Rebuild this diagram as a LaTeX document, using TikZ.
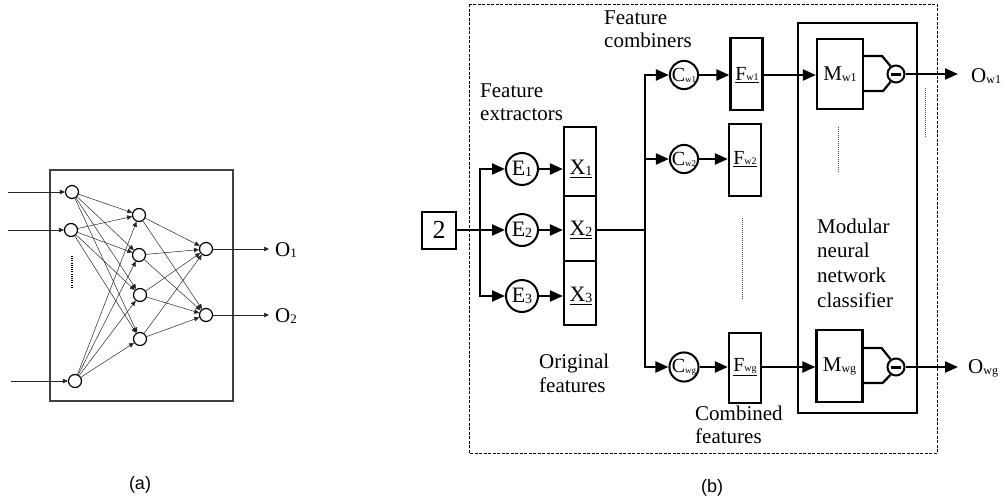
\documentclass[tikz,border=0pt]{standalone}
\usepackage{fontspec}
\setmainfont{Liberation Serif}
\newfontfamily\labsans{Liberation Sans}
\usetikzlibrary{arrows.meta,calc}
\newcommand{\ssub}[2]{\raisebox{-0.1ex}{\fontsize{#1}{#1}\selectfont #2}}
\begin{document}
\begin{tikzpicture}[x=1pt,y=-1pt,
  neu/.style={circle,draw,line width=1.2pt,minimum size=13pt,inner sep=0pt},
  conn/.style={line width=0.5pt,draw=black!85,-{Triangle[length=5pt,width=4.5pt]}},
  bl/.style={line width=2.2pt},
  arr/.style={line width=2.2pt,-{Triangle[length=13pt,width=11pt]}},
  ecirc/.style={circle,draw,line width=2pt,minimum size=32pt,inner sep=0pt,font=\fontsize{22}{22}\selectfont},
  ccirc/.style={circle,draw,line width=2pt,minimum size=24pt,inner sep=0pt,font=\fontsize{20}{20}\selectfont},
  fbox/.style={rectangle,draw,line width=2.2pt,minimum width=32pt,inner sep=0pt},
  mbox/.style={rectangle,draw,line width=2.2pt,minimum width=46pt,inner sep=0pt,font=\fontsize{21}{21}\selectfont},
  minus/.style={circle,draw,line width=2pt,minimum size=17pt,inner sep=0pt},
  lbl/.style={anchor=base west,inner sep=0pt,font=\fontsize{21}{24}\selectfont},
  inlbl/.style={inner sep=0pt,font=\fontsize{20}{20}\selectfont},
  dotl/.style={line width=1pt,draw=black!70,dash pattern=on 1pt off 1pt}
]
\useasboundingbox (0,0) rectangle (1005,501);

% ---------------- panel (a) ----------------
\draw[line width=1.5pt,draw=black!75] (50,170) rectangle (233,401);
\node[neu] (i1) at (72,192) {};
\node[neu] (i2) at (71,230) {};
\node[neu] (i3) at (75,381) {};
\node[neu] (h1) at (139,215) {};
\node[neu] (h2) at (139,255) {};
\node[neu] (h3) at (140,295) {};
\node[neu] (h4) at (140,339) {};
\node[neu] (o1) at (206,249) {};
\node[neu] (o2) at (206,315) {};
\coordinate (a1) at (8,192);
\coordinate (a2) at (8,230);
\coordinate (a3) at (11,381);
\draw[conn] (a1) -- (i1);
\draw[conn] (a2) -- (i2);
\draw[conn] (a3) -- (i3);
\foreach \i in {i1,i2,i3}{\foreach \h in {h1,h2,h3,h4}{\draw[conn] (\i) -- (\h);}}
\foreach \h in {h1,h2,h3,h4}{\foreach \o in {o1,o2}{\draw[conn] (\h) -- (\o);}}
\coordinate (oe1) at (269,249);
\coordinate (oe2) at (269,315);
\draw[conn] (o1) -- (oe1);
\draw[conn] (o2) -- (oe2);
\node[anchor=west,inner sep=0pt,font=\fontsize{21}{21}\selectfont] (O1t) at (275,250) {O\ssub{13}{1}};
\node[anchor=west,inner sep=0pt,font=\fontsize{21}{21}\selectfont] (O2t) at (275,316) {O\ssub{13}{2}};
\draw[line width=1.3pt,dash pattern=on 1pt off 1.2pt] (72,256) -- (72,287);
\node[font=\labsans\fontsize{18}{18}\selectfont] (alab) at (140,485) {(a)};

% ---------------- panel (b) ----------------
\draw[line width=0.8pt,dash pattern=on 3pt off 1.5pt] (469,4) rectangle (937,453);
\node[draw,line width=2pt,minimum width=34pt,minimum height=37pt,inner sep=0pt,font=\fontsize{26}{26}\selectfont] (two) at (439,230) {2};

\node[ecirc] (E1) at (522,169) {E\ssub{14}{1}};
\node[ecirc] (E2) at (522,230) {E\ssub{14}{2}};
\node[ecirc] (E3) at (522,296) {E\ssub{14}{3}};

\node[fbox,minimum height=69pt] (X1) at (580,161.5) {};
\node[fbox,minimum height=65pt] (X2) at (580,228.5) {};
\node[fbox,minimum height=64pt] (X3) at (580,293) {};
\node[inlbl,font=\fontsize{22}{22}\selectfont] (X1t) at (581,169) {\underline{X\ssub{14}{1}}};
\node[inlbl,font=\fontsize{22}{22}\selectfont] (X2t) at (581,230) {\underline{X\ssub{14}{2}}};
\node[inlbl,font=\fontsize{22}{22}\selectfont] (X3t) at (581,296) {\underline{X\ssub{14}{3}}};

\coordinate (t1) at (480,169);
\coordinate (t3) at (480,296);
\draw[bl,line cap=rect] (t1) -- (t3);
\draw[arr] (two.east) -- (E2);
\draw[arr] (t1) -- (E1);
\draw[arr] (t3) -- (E3);
\draw[arr] (E1) -- (E1 -| X1.west);
\draw[arr] (E2) -- (E2 -| X2.west);
\draw[arr] (E3) -- (E3 -| X3.west);

\coordinate (u0) at (645,230);
\coordinate (u1) at (645,75);
\coordinate (u2) at (645,159);
\coordinate (ug) at (645,367);
\draw[bl] (E2 -| X2.east) -- (u0);
\draw[bl,line cap=rect] (u1) -- (ug);

\node[ccirc] (C1) at (684,75) {C\ssub{9}{w1}};
\node[ccirc] (C2) at (684,159) {C\ssub{9}{w2}};
\node[ccirc] (Cg) at (684,367) {C\ssub{9}{wg}};
\draw[arr] (u1) -- (C1);
\draw[arr] (u2) -- (C2);
\draw[arr] (ug) -- (Cg);

\node[fbox,minimum height=72pt] (F1) at (746.5,74) {};
\node[fbox,minimum height=72pt] (F2) at (745,160) {};
\node[fbox,minimum height=70pt] (Fg) at (745,368) {};
\node[inlbl] (F1t) at (747,75) {\underline{F\ssub{10}{w1}}};
\node[inlbl] (F2t) at (745,159) {\underline{F\ssub{10}{w2}}};
\node[inlbl] (Fgt) at (745,367) {\underline{F\ssub{10}{wg}}};
\draw[arr] (C1) -- (C1 -| F1.west);
\draw[arr] (C2) -- (C2 -| F2.west);
\draw[arr] (Cg) -- (Cg -| Fg.west);

\draw[line width=2.5pt] (798,23) rectangle (917,413);
\node[mbox,minimum height=70pt] (M1) at (840,74) {M\ssub{12}{w1}};
\node[mbox,minimum height=72pt] (Mg) at (839.5,366) {M\ssub{12}{wg}};
\draw[arr] (F1.east |- C1) -- (C1 -| M1.west);
\draw[arr] (Fg.east |- Cg) -- (Cg -| Mg.west);

\node[minus] (m1) at (896,74) {\rule{10pt}{3pt}};
\node[minus] (mg) at (896,367) {\rule{10pt}{3pt}};
\draw[bl] ($(M1.east)+(0,-18)$) -- ++(18,0) -- (m1.125);
\draw[bl] ($(M1.east)+(0,17)$) -- ++(19,0) -- (m1.235);
\draw[bl] ($(Mg.east)+(0,-18)$) -- ++(18,0) -- (mg.125);
\draw[bl] ($(Mg.east)+(0,17)$) -- ++(19,0) -- (mg.235);

\coordinate (ow1) at (958,74);
\coordinate (owg) at (958,367);
\draw[arr] (m1) -- (ow1);
\draw[arr] (mg) -- (owg);
\node[anchor=west,inner sep=0pt,font=\fontsize{21}{21}\selectfont] (Ow1t) at (971,76) {O\ssub{12}{w1}};
\node[anchor=west,inner sep=0pt,font=\fontsize{21}{21}\selectfont] (Owgt) at (968,368) {O\ssub{12}{wg}};

\draw[dotl] (742,218) -- (742,300);
\draw[dotl] (838,127) -- (838,173);
\draw[dotl] (925,88) -- (925,137);

\node[lbl] (fc1) at (604,24) {Feature};
\node[lbl] (fc2) at (604,47) {combiners};
\node[lbl] (fe1) at (480,97) {Feature};
\node[lbl] (fe2) at (480,120) {extractors};
\node[lbl] (of1) at (539,368) {Original};
\node[lbl] (of2) at (539,392) {features};
\node[lbl] (cf1) at (695,420) {Combined};
\node[lbl] (cf2) at (695,443) {features};
\node[lbl] (mn1) at (817,233) {Modular};
\node[lbl] (mn2) at (817,257) {neural};
\node[lbl] (mn3) at (817,282) {network};
\node[lbl] (mn4) at (817,307) {classifier};

\node[font=\labsans\fontsize{18}{18}\selectfont] (blab) at (712,488) {(b)};
\end{tikzpicture}
\end{document}
